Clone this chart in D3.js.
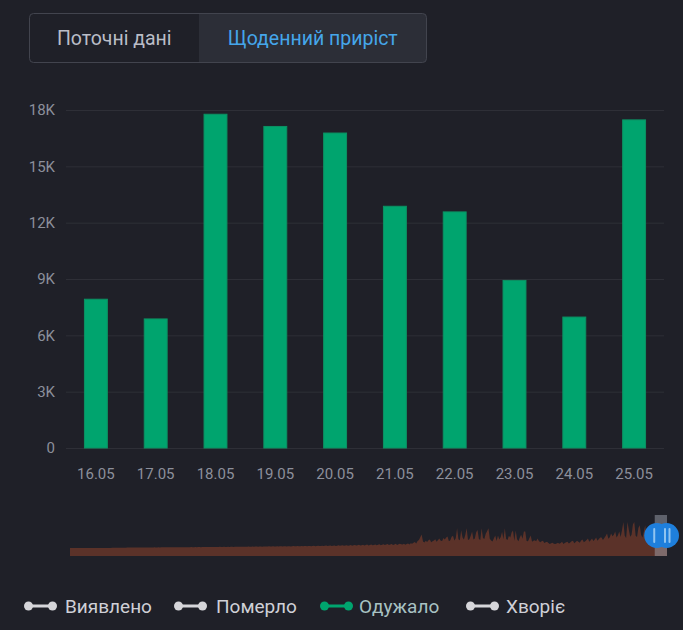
<!DOCTYPE html>
<html><head><meta charset="utf-8">
<script src="https://cdn.jsdelivr.net/npm/d3@7"></script>
<style>
html,body{margin:0;padding:0;background:#1f2028;}
svg{display:block;font-family:Roboto,"Noto Sans",sans-serif;}
</style></head>
<body>
<svg id="c" width="683" height="630"></svg>
<script>
// ---- data ----
const categories = ["16.05","17.05","18.05","19.05","20.05","21.05","22.05","23.05","24.05","25.05"];
const recovered = [7950, 6900, 17800, 17150, 16800, 12900, 12600, 8950, 7000, 17500];
const yTicks = [0, 3000, 6000, 9000, 12000, 15000, 18000];
const yTickLabels = ["0","3K","6K","9K","12K","15K","18K"];
const toggleLabels = ["Поточні дані", "Щоденний приріст"];
const legendLabels = ["Виявлено", "Померло", "Одужало", "Хворіє"];
const legendActive = [false, false, true, false];
// daily recovered history (thousands) for the zoom slider shadow, before 16.05
const historyK = [
0,0,0,0,0,0,0, 0,0,0,0,0,0,0, 0,0,0,0,0,0.01,0.01,
0.01,0.02,0.02,0.03,0.03,0.04,0.05, 0.05,0.06,0.08,0.09,0.1,0.12,0.13,
0.15,0.17,0.2,0.18,0.22,0.25,0.24, 0.26,0.28,0.3,0.27,0.31,0.33,0.3,
0.32,0.35,0.33,0.36,0.38,0.34,0.37, 0.4,0.36,0.39,0.42,0.38,0.41,0.44,
0.4,0.43,0.46,0.42,0.45,0.48,0.44, 0.47,0.5,0.45,0.49,0.52,0.47,0.5,
0.53,0.48,0.52,0.55,0.5,0.54,0.57, 0.52,0.56,0.6,0.55,0.58,0.62,0.57,
0.6,0.64,0.58,0.62,0.66,0.6,0.64, 0.68,0.62,0.66,0.7,0.64,0.68,0.72,
0.66,0.7,0.75,0.68,0.72,0.78,0.7, 0.74,0.8,0.72,0.77,0.83,0.75,0.8,
0.86,0.77,0.82,0.89,0.8,0.85,0.92, 0.83,0.88,0.95,0.86,0.91,0.98,0.88,
0.94,1.01,0.9,0.96,1.04,0.93,0.99, 1.07,0.95,1.02,1.1,0.98,1.05,1.13,
1.0,1.08,1.16,1.03,1.1,1.19,1.05, 1.13,1.22,1.08,1.16,1.25,1.1,1.19,
1.28,1.12,1.22,1.31,1.15,1.25,1.35, 1.18,1.28,1.38,1.2,1.31,1.42,1.23,
1.35,1.46,1.26,1.38,1.5,1.29,1.42, 1.55,1.32,1.46,1.6,1.35,1.5,1.65,
1.38,1.54,1.7,1.42,1.58,1.76,1.45, 1.62,1.82,1.49,1.67,1.88,1.53,1.72,
1.95,1.57,1.77,2.02,1.6,1.82,2.1, 1.65,1.88,2.18,1.7,1.94,2.26,1.75,
2.0,2.34,1.8,2.07,2.42,1.85,2.14, 2.5,1.9,2.2,2.58,1.95,2.27,2.66,
2.0,2.34,2.75,2.05,2.4,2.84,2.1, 2.48,2.93,2.15,2.55,3.0,
2.6,2.4,3.0,2.2,2.8,3.1,2.5, 3.3,2.9,3.6,4.2,3.1,4.8,5.5,
7.4,9.4,4.5,3.8,5.0,4.2,5.3, 5.8,3.9,4.6,5.2,6.1,4.4,5.6,
6.5,5.0,4.8,6.9,5.9,7.2,7.9,
4.6,5.4,7.8,8.5,5.2,6.8,13.7, 6.1,5.4,12.3,7.2,5.8,9.0,13.7,
5.6,6.1,8.5,11.5,5.9,6.6,10.9, 12.4,6.3,5.5,13.7,7.0,6.2,9.8,
11.6,13.7,6.4,5.2,4.5,6.8,8.6, 4.9,8.6,5.8,7.7,11.2,6.1,13.7,
6.2,5.6,8.4,7.3,10.8,12.2,5.1, 12.2,6.0,4.6,7.2,9.1,6.4,11.5,
11.5,4.9,4.7,6.8,8.6,4.3,5.0,
5.4,4.6,6.5,4.8,3.9,4.6,5.1, 3.5,4.0,4.3,3.4,2.8,3.3,3.7,
3.0,2.7,3.2,3.6,2.9,3.4,4.3, 2.8,3.5,4.0,4.3,3.1,3.8,4.6,
5.0,3.3,4.1,5.0,4.4,3.6,5.2, 5.8,3.9,4.7,5.5,6.5,4.3,5.4,
6.5,4.8,5.9,7.2,5.1,6.3,7.2, 7.2,5.6,6.9,8.3,10.0,6.4,7.5,
10.0,8.1,9.2,11.5,7.3,8.8,11.5,
7.6,12.4,18.0,8.5,6.9,18.0,12.7, 7.8,9.2,16.3,18.0,8.4,7.7,13.8,
15.8,9.1,7.3,11.5,15.8,7.6,6.4, 12.7,14.9,8.2,6.8
];

// ---- styles ----
const BG = "#1f2028";
const BAR = "#00a46e";
const AXIS_TEXT = "#8c8f9b";
const GRID = "#2e2f37";

const svg = d3.select("#c");
svg.append("rect").attr("width",683).attr("height",630).attr("fill",BG);

// ---- toggle ----
const tg = svg.append("g");
const tx0 = 29.5, ty0 = 13.5, tw = 397, th = 49, tmid = 199, r = 4;
tg.append("path")
  .attr("d", `M${tmid},${ty0} H${tx0+tw-r} Q${tx0+tw},${ty0} ${tx0+tw},${ty0+r} V${ty0+th-r} Q${tx0+tw},${ty0+th} ${tx0+tw-r},${ty0+th} H${tmid} Z`)
  .attr("fill","#2c2e37");
tg.append("rect").attr("x",tx0).attr("y",ty0).attr("width",tw).attr("height",th).attr("rx",r)
  .attr("fill","none").attr("stroke","#42444e").attr("stroke-width",1);
tg.append("text").attr("x",(tx0+tmid)/2).attr("y",44.5).attr("text-anchor","middle")
  .attr("font-size",19.5).attr("fill","#babdc7").text(toggleLabels[0]);
tg.append("text").attr("x",(tmid+tx0+tw)/2).attr("y",44.5).attr("text-anchor","middle")
  .attr("font-size",19.5).attr("fill","#45a6ea").text(toggleLabels[1]);

// ---- main chart ----
const x = d3.scaleBand().domain(categories).range([66,664]).paddingInner(0.6).paddingOuter(0.3);
const y = d3.scaleLinear().domain([0,18000]).range([448,110]);

const yAxis = d3.axisLeft(y).tickValues(yTicks).tickSize(-598)
  .tickFormat((d,i)=>yTickLabels[i]).tickPadding(11);
const gy = svg.append("g").attr("transform","translate(66,0)").call(yAxis);
gy.select(".domain").remove();
gy.selectAll(".tick line").attr("stroke",GRID).attr("stroke-width",1);
gy.selectAll(".tick text").attr("fill",AXIS_TEXT).attr("font-size",15).attr("font-family","Roboto,sans-serif");

svg.append("g").selectAll("rect").data(recovered).join("rect")
  .attr("x",(d,i)=>x(categories[i])+0.5)
  .attr("y",d=>y(d)+0.5)
  .attr("width",x.bandwidth()-1)
  .attr("height",d=>y(0)-y(d)-0.5)
  .attr("fill",BAR).attr("stroke","#0c9163").attr("stroke-width",1);

const xAxis = d3.axisBottom(x).tickSize(0).tickPadding(20);
const gx = svg.append("g").attr("transform","translate(0,448)").call(xAxis);
gx.select(".domain").remove();
gx.selectAll(".tick text").attr("fill",AXIS_TEXT).attr("font-size",15).attr("font-family","Roboto,sans-serif");

// ---- data zoom slider ----
const shadow = historyK.concat(recovered.map(v=>v/1000));
const xs = d3.scaleLinear().domain([0, shadow.length-1]).range([70, 667]);
const ys = d3.scaleLinear().domain([0, 18]).range([548, 522]);
const area = d3.area().x((d,i)=>xs(i)).y0(556).y1(d=>ys(d)).curve(d3.curveLinear);
svg.append("path").datum(shadow).attr("d",area).attr("fill","#5b3229");

const winStart = xs(historyK.length), winEnd = xs(shadow.length-1);
svg.append("rect").attr("x",winStart).attr("y",515).attr("width",winEnd-winStart).attr("height",41)
  .attr("fill","rgba(162,165,177,0.49)");
const hg = svg.append("g");
[winStart+2, winEnd-0.5].forEach(cx=>{
  hg.append("circle").attr("cx",cx).attr("cy",535.5).attr("r",12.5).attr("fill","#1e7fdc");
});
[winStart-1.5, winEnd-3, winEnd+1.5].forEach(lx=>{
  hg.append("rect").attr("x",lx).attr("y",528).attr("width",2).attr("height",15).attr("rx",1).attr("fill","#8fc4f0");
});

// ---- legend ----
const legIconX = [24, 174, 320, 466];
const legTextX = [65, 216, 359, 506];
const lg = svg.append("g");
legendLabels.forEach((lab,i)=>{
  const c = legendActive[i] ? BAR : "#d6d6da";
  const g = lg.append("g").attr("transform",`translate(${legIconX[i]},606)`);
  g.append("line").attr("x1",4).attr("x2",29).attr("stroke",c).attr("stroke-width",3);
  g.append("circle").attr("cx",4.5).attr("r",4.5).attr("fill",c);
  g.append("circle").attr("cx",28.5).attr("r",4.5).attr("fill",c);
  lg.append("text").attr("x",legTextX[i]).attr("y",612.5).attr("font-size",19)
    .attr("fill", legendActive[i] ? "#a8c2c3" : "#cfd0d7").text(lab);
});
</script>
</body></html>
